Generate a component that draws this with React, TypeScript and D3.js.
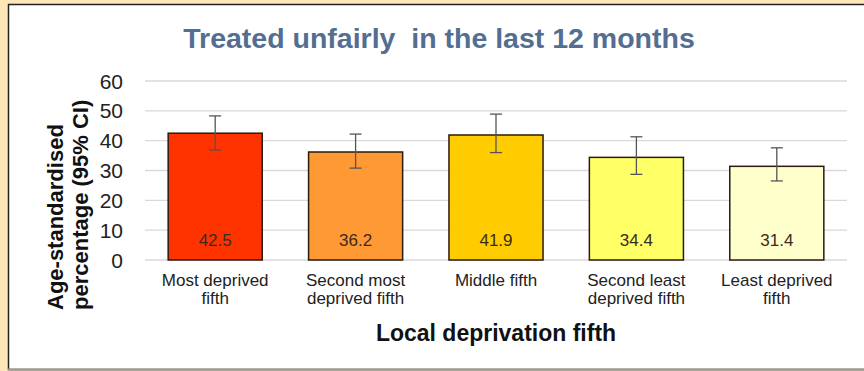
import React from "react";
import * as d3 from "d3";

const categories = [
  ["Most deprived", "fifth"],
  ["Second most", "deprived fifth"],
  ["Middle fifth"],
  ["Second least", "deprived fifth"],
  ["Least deprived", "fifth"],
];
const values = [42.5, 36.2, 41.9, 34.4, 31.4];
const lower = [36.9, 30.8, 36.0, 28.7, 26.5];
const upper = [48.3, 42.2, 48.9, 41.3, 37.6];
const colors = ["#FF3300", "#FF9933", "#FFCC00", "#FFFF66", "#FFFFCC"];
const yTicks = [0, 10, 20, 30, 40, 50, 60];

const W = 864;
const H = 371;
const plotLeft = 145;
const plotRight = 847;
const plotTop = 81;
const plotBottom = 260;

export default function App() {
  const x = d3
    .scaleBand<number>()
    .domain(d3.range(values.length))
    .range([plotLeft, plotRight])
    .paddingInner(0.33)
    .paddingOuter(0.165);
  const y = d3.scaleLinear().domain([0, 60]).range([plotBottom, plotTop]);
  const font = "Arial, 'Liberation Sans', sans-serif";

  return (
    <svg
      width={W}
      height={H}
      style={{ position: "absolute", left: 0, top: 0, display: "block" }}
      fontFamily={font}
    >
      <rect x={0} y={0} width={W} height={H} fill="#FDE6B8" />
      <rect x={8.5} y={4.5} width={W} height={365} fill="#ffffff" stroke="#222" strokeWidth={1.5} />
      <line x1={8} x2={W} y1={369.5} y2={369.5} stroke="#999" strokeWidth={2} />
      <text
        x={439}
        y={48}
        textAnchor="middle"
        fontSize={28.5}
        fontWeight="bold"
        fill="#536E91"
        style={{ whiteSpace: "pre" }}
      >
        {"Treated unfairly  in the last 12 months"}
      </text>
      {yTicks.map((t) => (
        <g key={t}>
          <line x1={plotLeft} x2={plotRight} y1={y(t)} y2={y(t)} stroke="#D9D9D9" strokeWidth={1.3} />
          <text x={123} y={y(t)} dy="0.36em" textAnchor="end" fontSize={21} fill="#222">
            {t}
          </text>
        </g>
      ))}
      <g transform={`translate(0, 310) rotate(-90)`}>
        <text x={0} y={63} textAnchor="start" fontSize={22} fontWeight="bold" fill="#111">
          Age-standardised
        </text>
        <text x={0} y={88} textAnchor="start" fontSize={22} fontWeight="bold" fill="#111">
          percentage (95% CI)
        </text>
      </g>
      {values.map((v, i) => {
        const bx = x(i)!;
        const bw = x.bandwidth();
        const cx = bx + bw / 2;
        return (
          <g key={i}>
            <rect
              x={bx}
              y={y(v)}
              width={bw}
              height={y(0) - y(v)}
              fill={colors[i]}
              stroke="#2a1a10"
              strokeWidth={1.5}
            />
            <line x1={cx} x2={cx} y1={y(upper[i])} y2={y(lower[i])} stroke="#555" strokeWidth={1.3} />
            <line x1={cx - 6} x2={cx + 6} y1={y(upper[i])} y2={y(upper[i])} stroke="#555" strokeWidth={1.3} />
            <line x1={cx - 6} x2={cx + 6} y1={y(lower[i])} y2={y(lower[i])} stroke="#555" strokeWidth={1.3} />
            <text x={cx} y={246} textAnchor="middle" fontSize={17} fill="#3a2a20">
              {v.toFixed(1)}
            </text>
            {categories[i].map((line, j) => (
              <text
                key={j}
                x={cx}
                y={286 + j * 18}
                textAnchor="middle"
                fontSize={17}
                fill="#222"
              >
                {line}
              </text>
            ))}
          </g>
        );
      })}
      <text x={496} y={341} textAnchor="middle" fontSize={23} fontWeight="bold" fill="#111">
        Local deprivation fifth
      </text>
    </svg>
  );
}
